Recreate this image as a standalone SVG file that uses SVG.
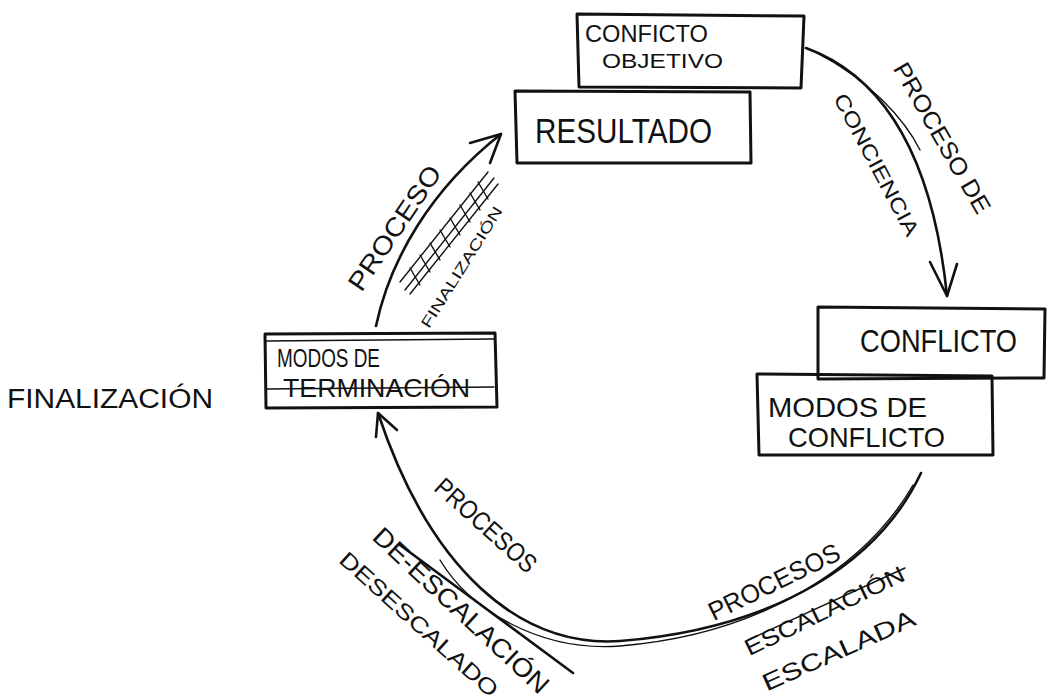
<svg xmlns="http://www.w3.org/2000/svg" width="1048" height="698" viewBox="0 0 1048 698">
<style>
.box{fill:none;stroke:#111;stroke-width:3;stroke-linejoin:round;stroke-linecap:round}
.ln{fill:none;stroke:#111;stroke-width:2.6;stroke-linecap:round;stroke-linejoin:round}
.thin{fill:none;stroke:#111;stroke-width:1.4;stroke-linecap:round}
text{font-family:"Liberation Sans","DejaVu Sans",sans-serif;fill:#111;font-weight:normal}
.t{text-anchor:middle}
</style>
<rect width="1048" height="698" fill="#fff"/>

<g id="conflicto-objetivo">
<path class="box" d="M577,14 L804,16 L801,88 L579,87 Z"/>
<text x="585" y="42" font-size="24" textLength="123" lengthAdjust="spacingAndGlyphs">CONFICTO</text>
<text x="602" y="68" font-size="21" textLength="121" lengthAdjust="spacingAndGlyphs">OBJETIVO</text>
</g>

<g id="resultado">
<path class="box" d="M515,91 L750,92 L751,163 L517,163 Z"/>
<text x="535" y="143" font-size="35" textLength="177" lengthAdjust="spacingAndGlyphs">RESULTADO</text>
</g>

<g id="conflicto">
<path class="box" d="M818,307 L1045,309 L1044,378 L818,379 Z"/>
<text x="860" y="352" font-size="32" textLength="157" lengthAdjust="spacingAndGlyphs">CONFLICTO</text>
</g>

<g id="modos-conflicto">
<path class="box" d="M757,374 L992,376 L993,455 L759,455 Z"/>
<text x="768" y="417" font-size="28" textLength="159" lengthAdjust="spacingAndGlyphs">MODOS DE</text>
<text x="788" y="447" font-size="28" textLength="157" lengthAdjust="spacingAndGlyphs">CONFLICTO</text>
</g>

<g id="modos-terminacion">
<path class="box" d="M265,334 L495,333 L497,407 L266,408 Z"/>
<path class="thin" d="M266,341 L494,339"/>
<path class="thin" d="M266,389 L494,387"/>
<text x="277" y="367" font-size="26" textLength="103" lengthAdjust="spacingAndGlyphs">MODOS DE</text>
<text x="283" y="397" font-size="26" textLength="187" lengthAdjust="spacingAndGlyphs">TERMINACIÓN</text>
</g>

<g id="finalizacion">
<text x="7" y="408" font-size="27" textLength="206" lengthAdjust="spacingAndGlyphs">FINALIZACIÓN</text>
</g>

<g id="connectors">
<path class="ln" d="M806,48 C880,75 932,150 947,296"/>
<path class="thin" d="M815,52 C870,80 905,120 920,150"/>
<path class="ln" d="M930,262 L947,296 L957,264"/>
<path class="ln" d="M921,473 C880,560 780,628 620,641 C520,648 430,570 378,413"/>
<path class="thin" d="M913,485 C870,560 770,634 620,646 C540,652 470,610 440,560"/>
<path class="ln" d="M376,437 L378,413 L397,430"/>
<path class="ln" d="M400,545 L573,673"/>
<path class="ln" d="M376,326 C390,260 430,190 501,134"/>
<path class="ln" d="M470,143 L501,134 L490,163"/>
<path class="thin" d="M400,282 L488,172 M405,290 L494,178 M410,294 L498,184"/>
<path class="thin" d="M410,268 L420,285 M420,255 L430,272 M430,243 L440,260 M440,230 L450,247 M450,218 L460,235 M460,205 L470,222 M470,193 L480,210 M478,182 L488,199"/>
</g>

<g id="labels">
<text class="t" font-size="24" textLength="170" lengthAdjust="spacingAndGlyphs" transform="translate(935,142) rotate(60)">PROCESO DE</text>
<text class="t" font-size="21" textLength="158" lengthAdjust="spacingAndGlyphs" transform="translate(870,168) rotate(62)">CONCIENCIA</text>
<text class="t" font-size="26" textLength="145" lengthAdjust="spacingAndGlyphs" transform="translate(402,233) rotate(-56)">PROCESO</text>
<text class="t" font-size="15" textLength="140" lengthAdjust="spacingAndGlyphs" transform="translate(466,270) rotate(-58)">FINALIZACIÓN</text>
<text class="t" font-size="26" textLength="127" lengthAdjust="spacingAndGlyphs" transform="translate(480,532) rotate(42)">PROCESOS</text>
<text class="t" font-size="26" textLength="230" lengthAdjust="spacingAndGlyphs" transform="translate(455,617) rotate(43)">DE-ESCALACIÓN</text>
<text class="t" font-size="22" textLength="205" lengthAdjust="spacingAndGlyphs" transform="translate(414,630) rotate(42)">DESESCALADO</text>
<text class="t" font-size="26" textLength="143" lengthAdjust="spacingAndGlyphs" transform="translate(778,590) rotate(-26)">PROCESOS</text>
<text class="t" font-size="23" textLength="175" lengthAdjust="spacingAndGlyphs" transform="translate(828,618) rotate(-26)">ESCALACIÓN</text>
<path class="thin" d="M748,640 L905,568"/>
<text class="t" font-size="24" textLength="165" lengthAdjust="spacingAndGlyphs" transform="translate(842,658) rotate(-24)">ESCALADA</text>
</g>
</svg>
